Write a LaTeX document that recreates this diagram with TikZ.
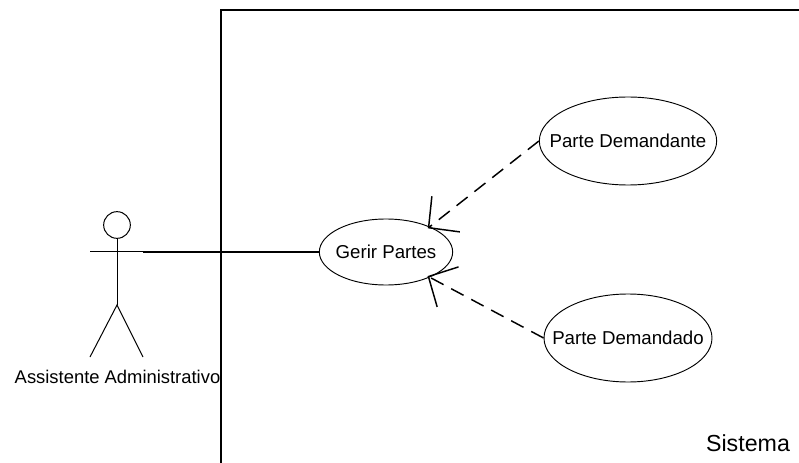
\documentclass[tikz,border=0pt]{standalone}
\usepackage{fontspec}
\setmainfont{Liberation Sans}
\usetikzlibrary{arrows.meta,shapes.geometric}
\tikzset{
	caso/.style={draw,ellipse,line width=0.7pt,inner sep=0pt,font=\fontsize{14}{16}\selectfont},
	linha/.style={line width=0.75pt},
	dep/.style={line width=1.1pt,shorten >=-2pt,dash pattern=on 10.5pt off 6.5pt,-{Straight Barb[length=16.5pt,width=34pt,line width=1.1pt]}}
}
\begin{document}
\begin{tikzpicture}[x=0.75pt,y=-0.75pt]
	\useasboundingbox (0,0) rectangle (799,463);
	% sistema
	\coordinate (Sb) at (221,463);
	\coordinate (Sc) at (221,10);
	\coordinate (Sd) at (799,10);
	\draw[line width=1.1pt] (Sb) -- (Sc) -- (Sd);
	\node (Si) at (748,443) [inner sep=0pt,font=\fontsize{17.4}{20}\selectfont] {Sistema};
	% ator
	\node (Ca) at (117,225) [draw,circle,linha,minimum size=20pt,inner sep=0pt] {};
	\coordinate (Co) at (117,252);
	\coordinate (Bd) at (90,252);
	\coordinate (Be) at (143,252);
	\coordinate (Qu) at (117,305);
	\coordinate (Pd) at (90,357);
	\coordinate (Pe) at (143,357);
	\draw[linha] (Ca) -- (Qu);
	\draw[linha] (Bd) -- (Be);
	\draw[linha] (Pd) -- (Qu) -- (Pe);
	\node (As) at (117.5,377) [inner sep=0pt,font=\fontsize{13.8}{16}\selectfont] {Assistente Administrativo};
	% casos de uso
	\node (Ge) at (386,252) [caso,minimum width=100pt,minimum height=49.5pt] {\makebox[0pt]{Gerir Partes}};
	\node (Dt) at (628,141) [caso,minimum width=133pt,minimum height=66pt] {\makebox[0pt]{Parte Demandante}};
	\node (Do) at (628,338) [caso,minimum width=126pt,minimum height=66pt] {\makebox[0pt]{Parte Demandado}};
	\draw[line width=1.1pt] (Be) -- (Ge);
	\draw[dep] (Dt.west) -- (Ge.30);
	\draw[dep] (Do.west) -- (Ge.-30);
\end{tikzpicture}
\end{document}
